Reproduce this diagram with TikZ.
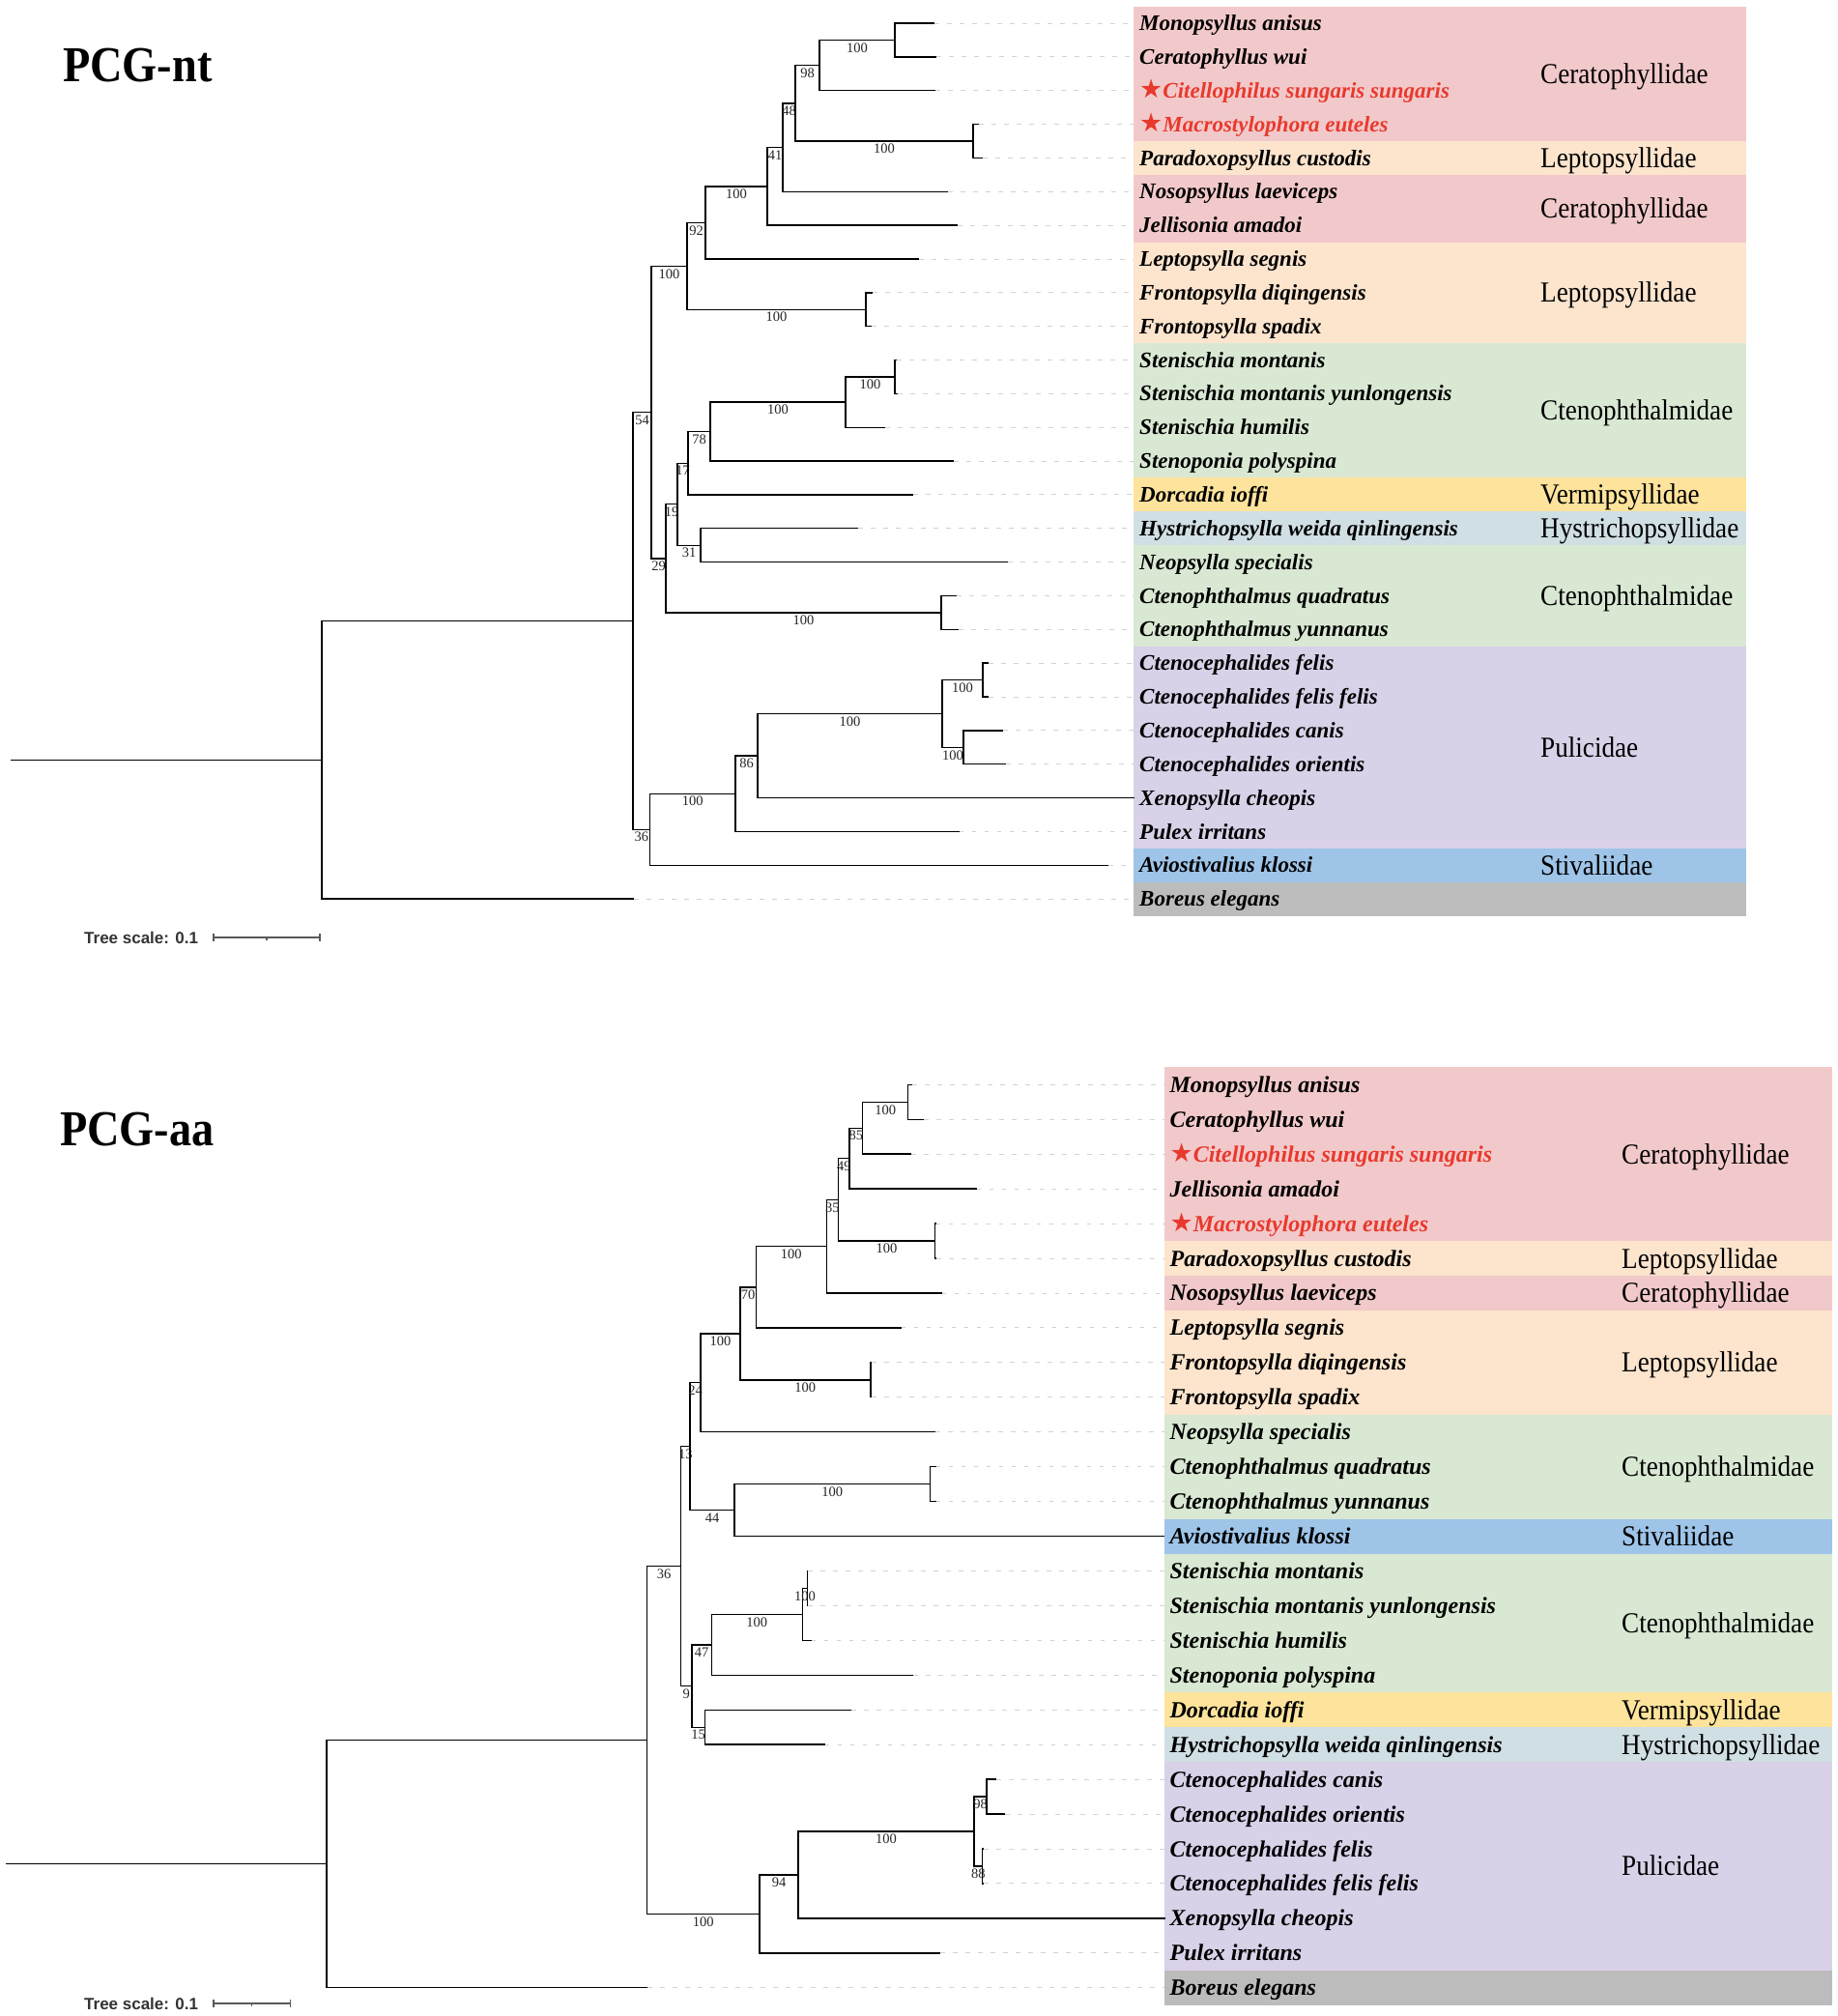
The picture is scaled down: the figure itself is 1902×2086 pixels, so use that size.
\documentclass[tikz,border=0pt]{standalone}
\usepackage{fontspec}
\usepackage{graphicx}
\setmainfont{Liberation Serif}
\newfontfamily\sansf{Liberation Sans}
\newfontfamily\symf{DejaVu Sans}
\definecolor{cerat}{HTML}{F2C9CA}
\definecolor{lepto}{HTML}{FCE4CD}
\definecolor{cteno}{HTML}{D9E8D3}
\definecolor{vermi}{HTML}{FDE39B}
\definecolor{hystr}{HTML}{D0DFE4}
\definecolor{puli}{HTML}{D9D1E8}
\definecolor{stiv}{HTML}{9EC4E8}
\definecolor{borg}{HTML}{BCBCBC}
\definecolor{redS}{HTML}{E8392E}
\tikzset{
  branch/.style={line width=1.4pt, black},
  leader/.style={line width=0.9pt, gray!35, dash pattern=on 4.5pt off 8.5pt},
  sup/.style={pos=0.75, inner sep=0pt, yshift=-8pt, text=black!85, font=\fontsize{14.5}{15}\selectfont},
  spT/.style={anchor=base west, inner sep=0pt, font=\fontsize{23}{26}\selectfont\bfseries\itshape},
  spB/.style={anchor=base west, inner sep=0pt, font=\fontsize{24}{27}\selectfont\bfseries\itshape},
  famst/.style={anchor=base west, inner sep=0pt, font=\fontsize{30}{32}\selectfont},
  titlest/.style={anchor=base west, inner sep=0pt, font=\fontsize{52}{56}\selectfont\bfseries},
  scl/.style={anchor=base west, inner sep=0pt, text=black!80, font=\sansf\bfseries\fontsize{17}{19}\selectfont},
  sbar/.style={line width=1.1pt, black!65}
}
\newcommand\tbr[3]{\draw[branch] (#1) |- node[sup]{#3} (#2);}
\newcommand\tleaf[4]{\coordinate (#1) at (#2,#3); \coordinate (#1e) at (1173,#3);
  \draw[leader] (#1) -- (#1e); \node[spT] (#1n) at (1179,#3+7.6) {#4};}
\newcommand\bleaf[4]{\coordinate (#1) at (#2,#3); \coordinate (#1e) at (1205,#3);
  \draw[leader] (#1) -- (#1e); \node[spB] (#1n) at (1210.4,#3+8) {#4};}
\newcommand\famlab[4]{\node[famst] (#1) at (#2,#3+10) {\scalebox{0.905}[1]{#4}};}
\newcommand\rstar{{\symf\mdseries\upshape\fontsize{27}{28}\selectfont ★}}
\begin{document}
\begin{tikzpicture}[x=1pt,y=-1pt]
\useasboundingbox (0,0) rectangle (1902,2086);
% ================= TOP TREE (PCG-nt) =================
\fill[cerat] (1173,6.575) rectangle (1807,145.975);
\fill[lepto] (1173,145.975) rectangle (1807,180.825);
\fill[cerat] (1173,180.825) rectangle (1807,250.525);
\fill[lepto] (1173,250.525) rectangle (1807,355.075);
\fill[cteno] (1173,355.075) rectangle (1807,494.475);
\fill[vermi] (1173,494.475) rectangle (1807,529.325);
\fill[hystr] (1173,529.325) rectangle (1807,564.175);
\fill[cteno] (1173,564.175) rectangle (1807,668.725);
\fill[puli] (1173,668.725) rectangle (1807,877.825);
\fill[stiv] (1173,877.825) rectangle (1807,912.675);
\fill[borg] (1173,912.675) rectangle (1807,947.525);

\node[titlest] (ttitle) at (65,84) {\scalebox{0.89}[1]{PCG-nt}};

\coordinate (tR0) at (11,786.2);
\coordinate (tZ) at (333,786.2);
\coordinate (tY) at (655,642.4);
\coordinate (tR) at (674,426.5);
\coordinate (tI) at (711,275.3);
\coordinate (tG) at (730,230.4);
\coordinate (tF) at (794,192.8);
\coordinate (tE) at (810,152.5);
\coordinate (tD) at (823,106.8);
\coordinate (tB) at (848,67.6);
\coordinate (tA) at (926,41.4);
\coordinate (tC) at (1007,146);
\coordinate (tH) at (896,320.2);
\coordinate (tQ) at (689,577.8);
\coordinate (tO) at (701,521.7);
\coordinate (tM) at (712,479.2);
\coordinate (tL) at (735,446.5);
\coordinate (tK) at (875,416);
\coordinate (tJ) at (926,389.9);
\coordinate (tN) at (725,564.2);
\coordinate (tP) at (974,633.9);
\coordinate (tX) at (672.5,858.2);
\coordinate (tW) at (761,821.2);
\coordinate (tV) at (784,782);
\coordinate (tU) at (975,738.4);
\coordinate (tS) at (1017,703.6);
\coordinate (tT) at (997,773.3);

\tleaf{tl0}{967}{24}{Monopsyllus anisus}
\tleaf{tl1}{969}{58.85}{Ceratophyllus wui}
\tleaf{tl2}{968}{93.7}{\color{redS}\rstar Citellophilus sungaris sungaris}
\tleaf{tl3}{1013}{128.55}{\color{redS}\rstar Macrostylophora euteles}
\tleaf{tl4}{1017}{163.4}{Paradoxopsyllus custodis}
\tleaf{tl5}{981}{198.25}{Nosopsyllus laeviceps}
\tleaf{tl6}{991}{233.1}{Jellisonia amadoi}
\tleaf{tl7}{951}{267.95}{Leptopsylla segnis}
\tleaf{tl8}{903}{302.8}{Frontopsylla diqingensis}
\tleaf{tl9}{902}{337.65}{Frontopsylla spadix}
\tleaf{tl10}{928}{372.5}{Stenischia montanis}
\tleaf{tl11}{929}{407.35}{Stenischia montanis yunlongensis}
\tleaf{tl12}{916}{442.2}{Stenischia humilis}
\tleaf{tl13}{987}{477.05}{Stenoponia polyspina}
\tleaf{tl14}{945}{511.9}{Dorcadia ioffi}
\tleaf{tl15}{888}{546.75}{Hystrichopsylla weida qinlingensis}
\tleaf{tl16}{1043}{581.6}{Neopsylla specialis}
\tleaf{tl17}{990}{616.45}{Ctenophthalmus quadratus}
\tleaf{tl18}{992}{651.3}{Ctenophthalmus yunnanus}
\tleaf{tl19}{1023}{686.15}{Ctenocephalides felis}
\tleaf{tl20}{1023}{721}{Ctenocephalides felis felis}
\tleaf{tl21}{1038}{755.85}{Ctenocephalides canis}
\tleaf{tl22}{1041}{790.7}{Ctenocephalides orientis}
\tleaf{tl23}{1174}{825.55}{Xenopsylla cheopis}
\tleaf{tl24}{992.5}{860.4}{Pulex irritans}
\tleaf{tl25}{1147}{895.25}{Aviostivalius klossi}
\tleaf{tl26}{656}{930.1}{Boreus elegans}

\draw[branch] (tR0) -- (tZ);
\tbr{tZ}{tY}{}
\tbr{tZ}{tl26}{}
\tbr{tY}{tR}{54}
\tbr{tY}{tX}{36}
\tbr{tR}{tI}{100}
\tbr{tR}{tQ}{29}
\tbr{tI}{tG}{92}
\tbr{tI}{tH}{100}
\tbr{tG}{tF}{100}
\tbr{tG}{tl7}{}
\tbr{tF}{tE}{41}
\tbr{tF}{tl6}{}
\tbr{tE}{tD}{48}
\tbr{tE}{tl5}{}
\tbr{tD}{tB}{98}
\tbr{tD}{tC}{100}
\tbr{tB}{tA}{100}
\tbr{tB}{tl2}{}
\tbr{tA}{tl0}{}
\tbr{tA}{tl1}{}
\tbr{tC}{tl3}{}
\tbr{tC}{tl4}{}
\tbr{tH}{tl8}{}
\tbr{tH}{tl9}{}
\tbr{tQ}{tO}{19}
\tbr{tQ}{tP}{100}
\tbr{tO}{tM}{17}
\tbr{tO}{tN}{31}
\tbr{tM}{tL}{78}
\tbr{tM}{tl14}{}
\tbr{tL}{tK}{100}
\tbr{tL}{tl13}{}
\tbr{tK}{tJ}{100}
\tbr{tK}{tl12}{}
\tbr{tJ}{tl10}{}
\tbr{tJ}{tl11}{}
\tbr{tN}{tl15}{}
\tbr{tN}{tl16}{}
\tbr{tP}{tl17}{}
\tbr{tP}{tl18}{}
\tbr{tX}{tW}{100}
\tbr{tX}{tl25}{}
\tbr{tW}{tV}{86}
\tbr{tW}{tl24}{}
\tbr{tV}{tU}{100}
\tbr{tV}{tl23}{}
\tbr{tU}{tS}{100}
\tbr{tU}{tT}{100}
\tbr{tS}{tl19}{}
\tbr{tS}{tl20}{}
\tbr{tT}{tl21}{}
\tbr{tT}{tl22}{}

\famlab{tf1}{1594}{76.275}{Ceratophyllidae}
\famlab{tf2}{1594}{163.4}{Leptopsyllidae}
\famlab{tf3}{1594}{215.675}{Ceratophyllidae}
\famlab{tf4}{1594}{302.8}{Leptopsyllidae}
\famlab{tf5}{1594}{424.775}{Ctenophthalmidae}
\famlab{tf6}{1594}{511.9}{Vermipsyllidae}
\famlab{tf7}{1594}{546.75}{Hystrichopsyllidae}
\famlab{tf8}{1594}{616.45}{Ctenophthalmidae}
\famlab{tf9}{1594}{773.275}{Pulicidae}
\famlab{tf10}{1594}{895.25}{Stivaliidae}

\node[scl] (tscl) at (87,976) {Tree scale: 0.1};
\coordinate (tsb1) at (221,970);
\coordinate (tsb2) at (331,970);
\coordinate (tsbm) at (276,970);
\draw[sbar] (tsb1) -- (tsb2);
\draw[sbar] (tsb1) ++(0,-4) -- ++(0,8);
\draw[sbar] (tsb2) ++(0,-4) -- ++(0,8);
\draw[sbar] (tsbm) -- ++(0,2.5);

% ================= BOTTOM TREE (PCG-aa) =================
\fill[cerat] (1205,1104.33) rectangle (1896,1284.03);
\fill[lepto] (1205,1284.03) rectangle (1896,1319.97);
\fill[cerat] (1205,1319.97) rectangle (1896,1355.91);
\fill[lepto] (1205,1355.91) rectangle (1896,1463.73);
\fill[cteno] (1205,1463.73) rectangle (1896,1571.55);
\fill[stiv] (1205,1571.55) rectangle (1896,1607.49);
\fill[cteno] (1205,1607.49) rectangle (1896,1751.25);
\fill[vermi] (1205,1751.25) rectangle (1896,1787.19);
\fill[hystr] (1205,1787.19) rectangle (1896,1823.13);
\fill[puli] (1205,1823.13) rectangle (1896,2038.77);
\fill[borg] (1205,2038.77) rectangle (1896,2074.71);

\node[titlest] (btitle) at (62,1185) {\scalebox{0.89}[1]{PCG-aa}};

\coordinate (bR0) at (6,1928.6);
\coordinate (bZ) at (338,1928.6);
\coordinate (bY) at (669.6,1800.5);
\coordinate (bS) at (704.7,1620.6);
\coordinate (bM) at (714,1496.7);
\coordinate (bJ) at (725,1430.75);
\coordinate (bI) at (765.8,1379.8);
\coordinate (bG) at (782.4,1331.8);
\coordinate (bF) at (855.3,1289.7);
\coordinate (bE) at (867.5,1241.4);
\coordinate (bC) at (879,1198.7);
\coordinate (bB) at (892.7,1167.2);
\coordinate (bA) at (939.7,1140.27);
\coordinate (bD) at (967.4,1284.03);
\coordinate (bH) at (900.8,1427.8);
\coordinate (bL) at (760,1562.6);
\coordinate (bK) at (962.6,1535.6);
\coordinate (bR) at (715.8,1744.5);
\coordinate (bP) at (736.2,1701.8);
\coordinate (bO) at (830.5,1670.4);
\coordinate (bN) at (835.3,1643.4);
\coordinate (bQ) at (729.5,1787.2);
\coordinate (bX) at (786.1,1980.4);
\coordinate (bW) at (826,1939.9);
\coordinate (bV) at (1008,1895);
\coordinate (bT) at (1021,1859.07);
\coordinate (bU) at (1016.6,1930.95);

\bleaf{bl0}{944}{1122.3}{Monopsyllus anisus}
\bleaf{bl1}{956}{1158.24}{Ceratophyllus wui}
\bleaf{bl2}{943}{1194.18}{\color{redS}\rstar Citellophilus sungaris sungaris}
\bleaf{bl3}{1010.7}{1230.12}{Jellisonia amadoi}
\bleaf{bl4}{968.5}{1266.06}{\color{redS}\rstar Macrostylophora euteles}
\bleaf{bl5}{969}{1302.0}{Paradoxopsyllus custodis}
\bleaf{bl6}{974.8}{1337.94}{Nosopsyllus laeviceps}
\bleaf{bl7}{932.6}{1373.88}{Leptopsylla segnis}
\bleaf{bl8}{902}{1409.82}{Frontopsylla diqingensis}
\bleaf{bl9}{902}{1445.76}{Frontopsylla spadix}
\bleaf{bl10}{968}{1481.7}{Neopsylla specialis}
\bleaf{bl11}{968.5}{1517.64}{Ctenophthalmus quadratus}
\bleaf{bl12}{968.5}{1553.58}{Ctenophthalmus yunnanus}
\bleaf{bl13}{1205}{1589.52}{Aviostivalius klossi}
\bleaf{bl14}{836}{1625.46}{Stenischia montanis}
\bleaf{bl15}{836}{1661.4}{Stenischia montanis yunlongensis}
\bleaf{bl16}{839.8}{1697.34}{Stenischia humilis}
\bleaf{bl17}{945.2}{1733.28}{Stenoponia polyspina}
\bleaf{bl18}{881.2}{1769.22}{Dorcadia ioffi}
\bleaf{bl19}{853.8}{1805.16}{Hystrichopsylla weida qinlingensis}
\bleaf{bl20}{1031.4}{1841.1}{Ctenocephalides canis}
\bleaf{bl21}{1040.3}{1877.04}{Ctenocephalides orientis}
\bleaf{bl22}{1018}{1912.98}{Ctenocephalides felis}
\bleaf{bl23}{1018}{1948.92}{Ctenocephalides felis felis}
\bleaf{bl24}{1206}{1984.86}{Xenopsylla cheopis}
\bleaf{bl25}{973}{2020.8}{Pulex irritans}
\bleaf{bl26}{670}{2056.74}{Boreus elegans}

\draw[branch] (bR0) -- (bZ);
\tbr{bZ}{bY}{}
\tbr{bZ}{bl26}{}
\tbr{bY}{bS}{36}
\tbr{bY}{bX}{100}
\tbr{bS}{bM}{13}
\tbr{bS}{bR}{9}
\tbr{bM}{bJ}{24}
\tbr{bM}{bL}{44}
\tbr{bJ}{bI}{100}
\tbr{bJ}{bl10}{}
\tbr{bI}{bG}{70}
\tbr{bI}{bH}{100}
\tbr{bG}{bF}{100}
\tbr{bG}{bl7}{}
\tbr{bF}{bE}{35}
\tbr{bF}{bl6}{}
\tbr{bE}{bC}{49}
\tbr{bE}{bD}{100}
\tbr{bC}{bB}{85}
\tbr{bC}{bl3}{}
\tbr{bB}{bA}{100}
\tbr{bB}{bl2}{}
\tbr{bA}{bl0}{}
\tbr{bA}{bl1}{}
\tbr{bD}{bl4}{}
\tbr{bD}{bl5}{}
\tbr{bH}{bl8}{}
\tbr{bH}{bl9}{}
\tbr{bL}{bK}{100}
\tbr{bL}{bl13}{}
\tbr{bK}{bl11}{}
\tbr{bK}{bl12}{}
\tbr{bR}{bP}{47}
\tbr{bR}{bQ}{15}
\tbr{bP}{bO}{100}
\tbr{bP}{bl17}{}
\tbr{bO}{bN}{100}
\tbr{bO}{bl16}{}
\tbr{bN}{bl14}{}
\tbr{bN}{bl15}{}
\tbr{bQ}{bl18}{}
\tbr{bQ}{bl19}{}
\tbr{bX}{bW}{94}
\tbr{bX}{bl25}{}
\tbr{bW}{bV}{100}
\tbr{bW}{bl24}{}
\tbr{bV}{bT}{98}
\tbr{bV}{bU}{88}
\tbr{bT}{bl20}{}
\tbr{bT}{bl21}{}
\tbr{bU}{bl22}{}
\tbr{bU}{bl23}{}

\famlab{bf1}{1678}{1194.18}{Ceratophyllidae}
\famlab{bf2}{1678}{1302.0}{Leptopsyllidae}
\famlab{bf3}{1678}{1337.94}{Ceratophyllidae}
\famlab{bf4}{1678}{1409.82}{Leptopsyllidae}
\famlab{bf5}{1678}{1517.64}{Ctenophthalmidae}
\famlab{bf6}{1678}{1589.52}{Stivaliidae}
\famlab{bf7}{1678}{1679.37}{Ctenophthalmidae}
\famlab{bf8}{1678}{1769.22}{Vermipsyllidae}
\famlab{bf9}{1678}{1805.16}{Hystrichopsyllidae}
\famlab{bf10}{1678}{1930.95}{Pulicidae}

\node[scl] (bscl) at (87,2079) {Tree scale: 0.1};
\coordinate (bsb1) at (221,2073);
\coordinate (bsb2) at (300.6,2073);
\coordinate (bsbm) at (260.8,2073);
\draw[sbar] (bsb1) -- (bsb2);
\draw[sbar] (bsb1) ++(0,-4) -- ++(0,8);
\draw[sbar] (bsb2) ++(0,-4) -- ++(0,8);
\draw[sbar] (bsbm) -- ++(0,2.5);
\end{tikzpicture}
\end{document}
